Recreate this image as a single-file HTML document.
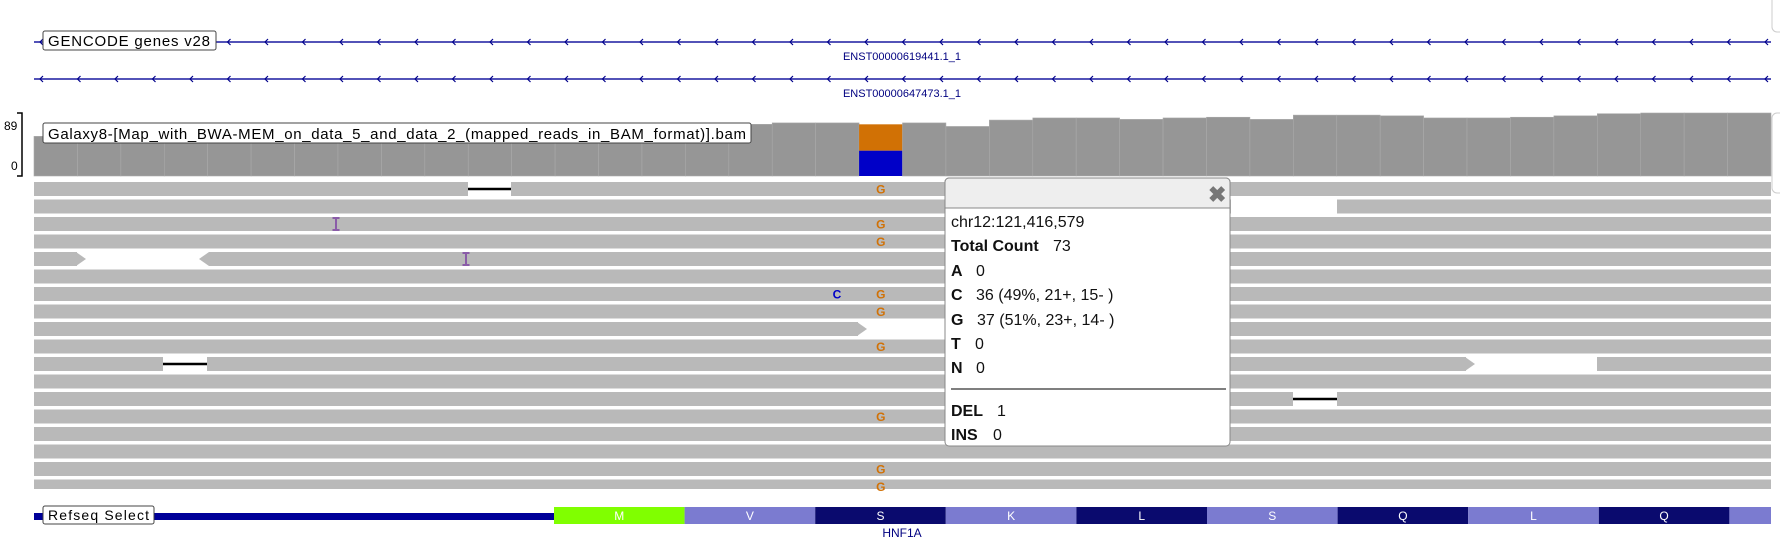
<!DOCTYPE html>
<html><head><meta charset="utf-8">
<style>
html,body{margin:0;padding:0;background:#fff;}
svg{display:block;font-family:"Liberation Sans",Arial,sans-serif;}
</style></head>
<body>
<svg id="chart" width="1780" height="546" viewBox="0 0 1780 546" xmlns="http://www.w3.org/2000/svg">
  <rect x="1772" y="-6" width="14" height="38" rx="5" fill="#fff" stroke="#ccc"/>
  <rect x="1772" y="113" width="14" height="80" rx="5" fill="#fff" stroke="#ccc"/>

  <g id="genes"></g>
  <g id="coverage"></g>
  <g id="reads"></g>
  <g id="refseq"></g>

  <text x="4" y="130" font-size="12" fill="#000">89</text>
  <text x="11" y="170" font-size="12" fill="#000">0</text>
  <path d="M17 113 H22 V176 H17" fill="none" stroke="#000" stroke-width="1.5"/>

  <g>
    <rect x="43" y="31" width="173" height="19" rx="2" fill="#fff" stroke="#444"/>
    <text x="48" y="46" font-size="15" fill="#000" textLength="162">GENCODE genes v28</text>
  </g>
  <g>
    <rect x="43" y="123" width="708" height="20" rx="2" fill="#fff" stroke="#444"/>
    <text x="48" y="139" font-size="15" fill="#000" textLength="698">Galaxy8-[Map_with_BWA-MEM_on_data_5_and_data_2_(mapped_reads_in_BAM_format)].bam</text>
  </g>
  <g>
    <rect x="43" y="506" width="111" height="18" rx="2" fill="#fff" stroke="#444"/>
    <text x="48" y="520" font-size="14" fill="#000" textLength="101">Refseq Select</text>
  </g>

  <g>
    <rect x="945" y="178" width="285" height="268" rx="4" fill="#fff" stroke="#888"/>
    <path d="M945 208 V182 a4 4 0 0 1 4 -4 H1226 a4 4 0 0 1 4 4 V208 Z" fill="#eee" stroke="#888"/>
    <text x="1208" y="202" font-size="22" font-weight="bold" fill="#777">✖</text>
    <g font-size="16" fill="#111">
      <text x="951" y="227">chr12:121,416,579</text>
      <text x="951" y="251"><tspan font-weight="bold">Total Count</tspan><tspan x="1053">73</tspan></text>
      <text x="951" y="276"><tspan font-weight="bold">A</tspan><tspan x="976">0</tspan></text>
      <text x="951" y="300"><tspan font-weight="bold">C</tspan><tspan x="976">36 (49%, 21+, 15- )</tspan></text>
      <text x="951" y="325"><tspan font-weight="bold">G</tspan><tspan x="977">37 (51%, 23+, 14- )</tspan></text>
      <text x="951" y="349"><tspan font-weight="bold">T</tspan><tspan x="975">0</tspan></text>
      <text x="951" y="373"><tspan font-weight="bold">N</tspan><tspan x="976">0</tspan></text>
      <line x1="951" y1="389" x2="1226" y2="389" stroke="#555" stroke-width="1.5"/>
      <text x="951" y="416"><tspan font-weight="bold">DEL</tspan><tspan x="997">1</tspan></text>
      <text x="951" y="440"><tspan font-weight="bold">INS</tspan><tspan x="993">0</tspan></text>
    </g>
  </g>
</svg>
<script>
const coverageValues = [56,56,56,56,56,56,56,56,56,56,56,70,70,71,72,72,73,75,75,73,75,70,79,82,82,80,82,83,80,86,86,85,82,82,83,85,88,89,89,89];
const coverageMax = [89];
const snpIndex = [19];
const snpFractions = [0.51, 0.49];
const geneNames = ["ENST00000619441.1_1","ENST00000647473.1_1"];
const aminoAcids = ["M","V","S","K","L","S","Q","L","Q",""];
const mismatchGRows = [0,2,3,6,7,9,13,16,17];

const NS="http://www.w3.org/2000/svg";
function mk(tag,attrs,parent){const e=document.createElementNS(NS,tag);for(const k in attrs)e.setAttribute(k,attrs[k]);parent.appendChild(e);return e;}

const X0=34, X1=1771, nBins=coverageValues.length, bw=(X1-X0)/nBins;
const xBin=i=>X0+i*bw;
const covBase=176, covTop=113;
const yCov=v=>covBase-(v/coverageMax[0])*(covBase-covTop);

const gG=document.getElementById('genes');
[42,79].forEach((y,k)=>{
  const l=mk('line',{x1:34,y1:y,x2:1771,y2:y,stroke:'#1a1aa0','stroke-width':1.6},gG);
  
  
  for(let x=40;x<1771;x+=37.5){
    const p=mk('path',{d:`M${x+3} ${y-3} L${x} ${y} L${x+3} ${y+3}`,fill:'none',stroke:'#00008b','stroke-width':1.2},gG);
    
    
  }
  const t=mk('text',{x:902,y:y+18,'font-size':11,fill:'#000080','text-anchor':'middle'},gG);
  
  
  t.textContent=geneNames[k];
});

const gC=document.getElementById('coverage');
coverageValues.forEach((v,i)=>{
  const x=xBin(i), y=yCov(v);
  if(i===snpIndex[0]){
    const h=covBase-y, hTop=h*snpFractions[0];
    const a=mk('rect',{x:x,y:y,width:bw,height:hTop,fill:'#d17105'},gC);
    
    
    const b=mk('rect',{x:x,y:y+hTop,width:bw,height:h-hTop,fill:'#0000c8'},gC);
    
    
  } else {
    const r=mk('rect',{x:x,y:y,width:bw,height:covBase-y,fill:'#969696',stroke:'#aaa','stroke-width':0.6},gC);
    
    
  }
});

const gR=document.getElementById('reads');
const RY0=182, RP=17.5, RH=14, nRows=18;
const ry=r=>RY0+r*RP;
for(let r=0;r<nRows;r++){
  const y=ry(r), h=Math.min(RH,489-y);
  if(h<=0)break;
  const rr=mk('rect',{x:X0,y:y,width:X1-X0,height:h,fill:'#b9b9b9'},gR);
  
  
}
function gap(r,x1,x2,del){
  const y=ry(r);
  mk('rect',{x:x1,y:y-1,width:x2-x1,height:RH+2,fill:'#fff'},gR);
  if(del){const l=mk('line',{x1:x1,y1:y+7,x2:x2,y2:y+7,stroke:'#000','stroke-width':2.5},gR);
    
    }
}
gap(0,468,511,true);
gap(10,163,207,true);
gap(12,1293,1337,true);
gap(1,1231,1337,false);
gap(4,77,209,false);
mk('path',{d:`M76 ${ry(4)} L86 ${ry(4)+7} L76 ${ry(4)+RH} Z`,fill:'#b9b9b9'},gR);
mk('path',{d:`M209 ${ry(4)} L199 ${ry(4)+7} L209 ${ry(4)+RH} Z`,fill:'#b9b9b9'},gR);
gap(8,858,945,false);
mk('path',{d:`M857 ${ry(8)} L867 ${ry(8)+7} L857 ${ry(8)+RH} Z`,fill:'#b9b9b9'},gR);
gap(10,1466,1597,false);
mk('path',{d:`M1465 ${ry(10)} L1475 ${ry(10)+7} L1465 ${ry(10)+RH} Z`,fill:'#b9b9b9'},gR);
[[2,336],[4,466]].forEach(([r,x])=>{
  const y=ry(r);
  const p=mk('path',{d:`M${x-3.5} ${y+1} H${x+3.5} M${x} ${y+1} V${y+13} M${x-3.5} ${y+13} H${x+3.5}`,stroke:'#8a5ca8','stroke-width':2,fill:'none'},gR);
  
  
});
const snpX=xBin(snpIndex[0])+bw/2;
mismatchGRows.forEach(r=>{
  const y=ry(r)+11.5;
  const t=mk('text',{x:snpX,y:Math.min(y,494),'font-size':12,'font-weight':'bold',fill:'#d17105','text-anchor':'middle'},gR);
  
  
  t.textContent='G';
});
const tc=mk('text',{x:837,y:ry(6)+11.5,'font-size':12,'font-weight':'bold',fill:'#0000c8','text-anchor':'middle'},gR);


tc.textContent='C';

const gF=document.getElementById('refseq');
const ln=mk('rect',{x:34,y:513,width:520,height:7,fill:'#000099'},gF);


const aaW=130.6, aaX0=554;
aminoAcids.forEach((a,i)=>{
  const x=aaX0+i*aaW, w=Math.min(aaW,X1-x);
  const fill=i===0?'#80ff00':(i%2===1?'#7b7bd0':'#0a0a6e');
  const r=mk('rect',{x:x,y:507,width:w,height:17,fill:fill},gF);
  
  
  if(a){const t=mk('text',{x:x+w/2,y:520,'font-size':12,fill:'#fff','text-anchor':'middle'},gF);
    
    
    t.textContent=a;}
});
const hn=mk('text',{x:902,y:537,'font-size':12,fill:'#000080','text-anchor':'middle'},gF);


hn.textContent='HNF1A';
</script>
</body></html>
